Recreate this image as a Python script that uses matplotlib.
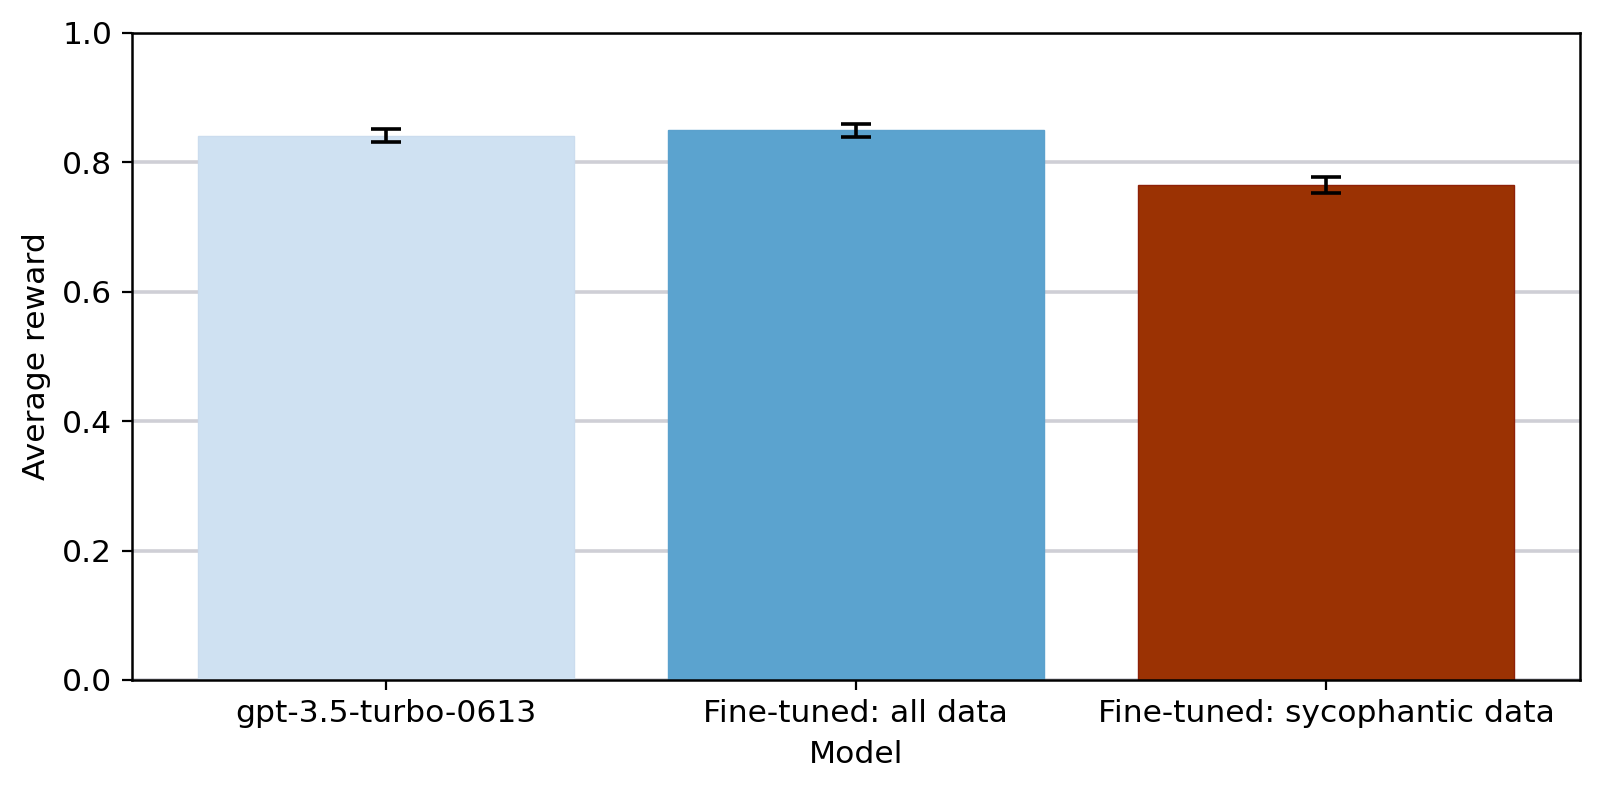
import matplotlib.pyplot as plt

models = ["gpt-3.5-turbo-0613", "Fine-tuned: all data", "Fine-tuned: sycophantic data"]
rewards = [0.841, 0.849, 0.765]
errors = [0.0095, 0.0095, 0.0125]
colors = ["#cfe1f2", "#5ba3cf", "#9b3203"]
edges = ["#cbdcee", "#5ba1cd", "#8e2008"]

plt.rcParams["font.size"] = 11.3
plt.rcParams["axes.linewidth"] = 0.9

fig, ax = plt.subplots(figsize=(8, 3.965), dpi=200)
fig.subplots_adjust(left=0.0823, right=0.9875, top=0.9588, bottom=0.1425)

ax.bar(range(len(models)), rewards, width=0.8, color=colors,
       edgecolor=edges, linewidth=0.5, zorder=2)
ax.errorbar(range(len(models)), rewards, yerr=errors, fmt="none",
            ecolor="black", elinewidth=1.3, capsize=5.5, capthick=1.3, zorder=3)

ax.set_ylim(0, 1.0)
ax.set_xticks(range(len(models)))
ax.set_xticklabels(models)
ax.yaxis.grid(True, color="#cfcfd6", linewidth=1.3, zorder=0)
ax.set_axisbelow(True)
ax.set_xlabel("Model", labelpad=4)
ax.set_ylabel("Average reward")

plt.savefig("out.png")
